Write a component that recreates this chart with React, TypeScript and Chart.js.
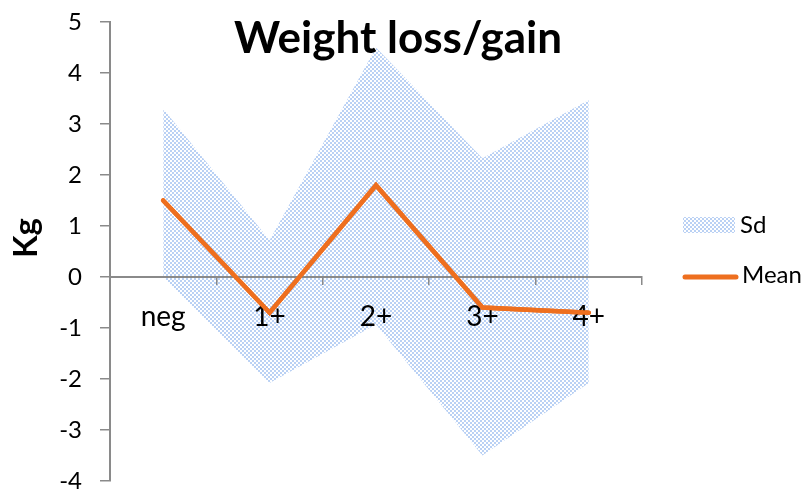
import React, { useEffect, useRef } from 'react';
import { Chart, registerables } from 'chart.js';

Chart.register(...registerables);

const TITLE = 'Weight loss/gain';
const Y_TITLE = 'Kg';
const categories = ['neg', '1+', '2+', '3+', '4+'];
const meanValues = [1.5, -0.7, 1.8, -0.6, -0.7];
const sdUpper = [3.3, 0.72, 4.5, 2.33, 3.47];
const sdLower = [0.0, -2.08, -0.93, -3.5, -2.08];
const Y_MIN = -4;
const Y_MAX = 5;
const Y_STEP = 1;

const SD_LABEL = 'Sd';
const MEAN_LABEL = 'Mean';
const ORANGE = '#EE6F1F';
const PATTERN_BLUE = '#BAD1F4';
const AXIS_GRAY = '#8A8A8A';
const FONT = 'Lato, "Open Sans", sans-serif';

function makePattern(ctx: CanvasRenderingContext2D): CanvasPattern | string {
  const c = document.createElement('canvas');
  c.width = 4;
  c.height = 4;
  const p = c.getContext('2d');
  if (!p) return PATTERN_BLUE;
  p.fillStyle = '#ffffff';
  p.fillRect(0, 0, 4, 4);
  p.fillStyle = PATTERN_BLUE;
  p.fillRect(0, 0, 2, 2);
  p.fillRect(2, 2, 2, 2);
  return ctx.createPattern(c, 'repeat') || PATTERN_BLUE;
}

export default function App() {
  const ref = useRef<HTMLCanvasElement | null>(null);

  useEffect(() => {
    document.body.style.margin = '0';
    const canvas = ref.current;
    if (!canvas) return;
    const ctx = canvas.getContext('2d');
    if (!ctx) return;
    const pattern = makePattern(ctx);

    const overlay = {
      id: 'overlay',
      afterDraw(chart: any) {
        const c = chart.ctx as CanvasRenderingContext2D;
        const area = chart.chartArea;
        // redraw mean line above the axes (as in the reference)
        const meanMeta = chart.getDatasetMeta(2);
        if (meanMeta && meanMeta.controller) {
          c.save();
          meanMeta.controller.draw();
          c.restore();
        }
        c.save();
        c.fillStyle = '#000';
        // title
        c.font = `bold 44px ${FONT}`;
        c.textAlign = 'center';
        c.textBaseline = 'alphabetic';
        c.fillText(TITLE, 398, 53);
        // y title
        c.save();
        c.translate(37, 238);
        c.rotate(-Math.PI / 2);
        c.font = `bold 33px ${FONT}`;
        c.textAlign = 'center';
        c.textBaseline = 'alphabetic';
        c.fillText(Y_TITLE, 0, 0);
        c.restore();
        // legend
        const lx = area.right + 41;
        c.fillStyle = pattern as any;
        c.fillRect(lx, 217, 52, 16);
        c.strokeStyle = ORANGE;
        c.lineWidth = 5;
        c.lineCap = 'round';
        c.beginPath();
        c.moveTo(lx + 2, 277);
        c.lineTo(lx + 53, 277);
        c.stroke();
        c.fillStyle = '#000';
        c.font = `24px ${FONT}`;
        c.textAlign = 'left';
        c.fillText(SD_LABEL, lx + 57, 233);
        c.fillText(MEAN_LABEL, lx + 59, 283);
        c.restore();
      },
    };

    const chart = new Chart(ctx, {
      type: 'line',
      data: {
        labels: categories,
        datasets: [
          {
            label: 'Sd lower',
            data: sdLower,
            borderWidth: 0,
            borderColor: 'rgba(0,0,0,0)',
            pointRadius: 0,
            fill: false,
            order: 2,
          },
          {
            label: SD_LABEL,
            data: sdUpper,
            borderWidth: 0,
            borderColor: 'rgba(0,0,0,0)',
            pointRadius: 0,
            backgroundColor: pattern as any,
            fill: '-1',
            order: 1,
          },
          {
            label: MEAN_LABEL,
            data: meanValues,
            borderColor: ORANGE,
            borderWidth: 4.5,
            borderCapStyle: 'round',
            borderJoinStyle: 'miter',
            pointRadius: 0,
            fill: false,
            tension: 0,
            order: 0,
          },
        ],
      },
      options: {
        responsive: false,
        animation: false,
        devicePixelRatio: 1,
        layout: { padding: { left: 0, top: 22, right: 165, bottom: 8 } },
        plugins: {
          legend: { display: false },
          title: { display: false },
          tooltip: { enabled: false },
        },
        scales: {
          x: {
            type: 'category',
            position: { y: 0 },
            offset: true,
            grid: {
              drawOnChartArea: false,
              drawTicks: true,
              tickLength: 7,
              offset: true,
              color: AXIS_GRAY,
              lineWidth: 1.5,
              z: 1,
            },
            border: { color: AXIS_GRAY, width: 2, z: 1 },
            ticks: {
              color: '#000',
              font: { family: FONT, size: 28 },
              padding: 16,
              maxRotation: 0,
              z: 1,
            },
            afterFit: (s: any) => {
              s.paddingLeft = 0;
              s.paddingRight = 0;
            },
          },
          y: {
            min: Y_MIN,
            max: Y_MAX,
            ticks: {
              stepSize: Y_STEP,
              color: '#000',
              font: { family: FONT, size: 24 },
              padding: 18,
              z: 1,
            },
            grid: {
              drawOnChartArea: false,
              drawTicks: true,
              tickLength: 10,
              color: AXIS_GRAY,
              lineWidth: 1.5,
              z: 1,
            },
            border: { color: AXIS_GRAY, width: 2, z: 1 },
            afterFit: (s: any) => {
              s.width = 110;
              s.paddingTop = 0;
              s.paddingBottom = 0;
            },
          },
        },
      },
      plugins: [overlay],
    });

    return () => chart.destroy();
  }, []);

  return (
    <div style={{ width: 807, height: 489, background: '#fff' }}>
      <canvas ref={ref} width={807} height={489} style={{ display: 'block' }} />
    </div>
  );
}
